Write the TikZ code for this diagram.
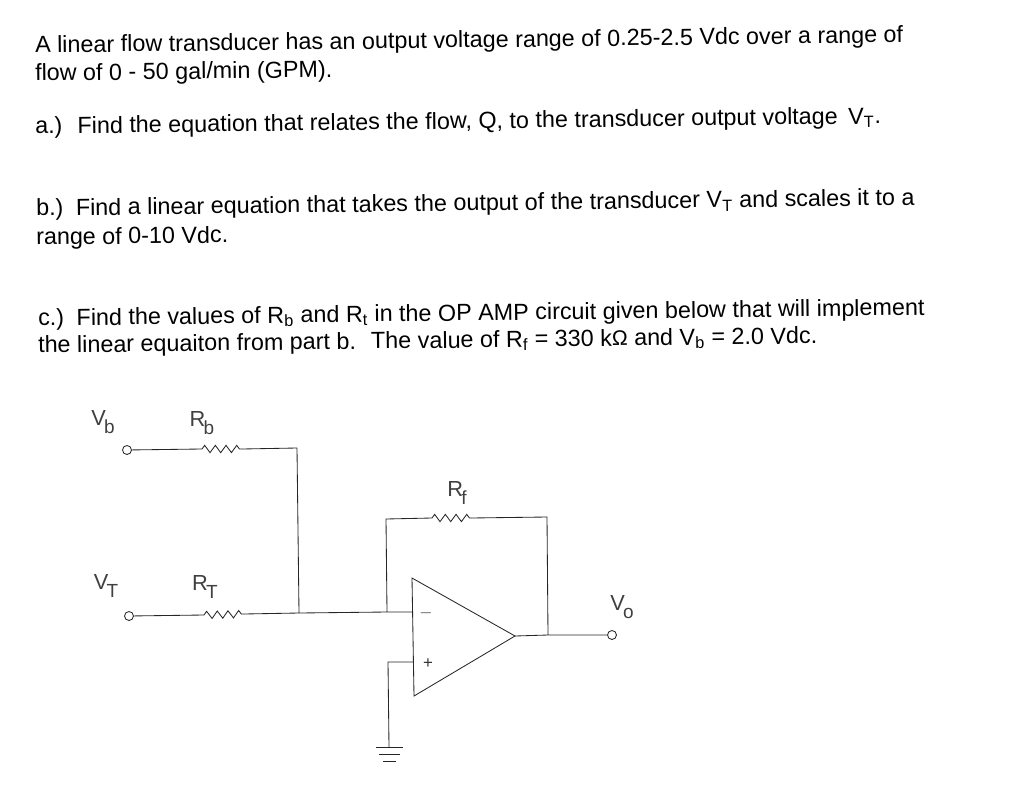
\documentclass[tikz,border=0pt]{standalone}
\usepackage{fontspec}
\setmainfont{Liberation Sans}
\usetikzlibrary{decorations.pathmorphing}
\tikzset{
	wire/.style={draw=black!85, line width=0.6pt},
	resistor/.style={wire, decorate, decoration={zigzag, segment length=7.6pt, amplitude=2.6pt}},
	pin/.style={circle, draw=black!85, line width=0.6pt, fill=white, inner sep=0pt, minimum size=6.4pt},
	question/.style={anchor=base west, rotate=0.7, inner sep=0pt, font=\fontsize{16.6pt}{20pt}\selectfont, text=black},
	partlabel/.style={inner sep=0pt, text=black!75, font=\fontsize{15.5pt}{18pt}\selectfont},
	signlabel/.style={inner sep=0pt, text=black!80, font=\fontsize{12pt}{14pt}\selectfont}
}
\newcommand{\sublabel}[2]{#1\kern-1.2pt\raisebox{-5.5pt}{\fontsize{13.5pt}{15pt}\selectfont #2}}
\begin{document}
\begin{tikzpicture}[x=0.025cm, y=-0.025cm]
			\useasboundingbox (0,0) rectangle (1024,794);

			% question text
			\node[question] (line1) at (35,53)	{A linear flow transducer has an output voltage range of 0.25-2.5 Vdc over a range of};
			\node[question] (line2) at (35,81)	{flow of 0 - 50 gal/min (GPM).};
			\node[question] (line3) at (35,134)	{a.)\; Find the equation that relates the flow, Q, to the transducer output voltage\, V\textsubscript{T}.};
			\node[question] (line4) at (36,216)	{b.)\, Find a linear equation that takes the output of the transducer V\textsubscript{T} and scales it to a};
			\node[question] (line5) at (36,245)	{range of 0-10 Vdc.};
			\node[question] (line6) at (38,326)	{c.)\, Find the values of R\textsubscript{b} and R\textsubscript{t} in the OP AMP circuit given below that will implement};
			\node[question] (line7) at (38,353)	{the linear equaiton from part b.\; The value of R\textsubscript{f} = 330 k{\fontsize{15pt}{18pt}\selectfont Ω} and V\textsubscript{b} = 2.0 Vdc.};

			% pins
			\node[pin] (vbpin) at (127,450)	{};
			\node[pin] (vtpin) at (129,616)	{};
			\node[pin] (vopin) at (612,635)	{};

			% junctions and corners
			\coordinate (rbleft) at (202,449);
			\coordinate (rbright) at (242,449);
			\coordinate (rbcorner) at (297,448);
			\coordinate (rtleft) at (204,615);
			\coordinate (rtright) at (244,614);
			\coordinate (sumpoint) at (299,613);
			\coordinate (fbfoot) at (387,612);
			\coordinate (minusin) at (413,612);
			\coordinate (fbcorner) at (386,519);
			\coordinate (rfleft) at (432,518);
			\coordinate (rfright) at (471,518);
			\coordinate (fbtop) at (547,517);
			\coordinate (fbdrop) at (548,635);
			\coordinate (plusin) at (413,662);
			\coordinate (pluscorner) at (388,662);
			\coordinate (gnd) at (389,747);

			% op amp
			\coordinate (amptop) at (412,578);
			\coordinate (ampbot) at (414,696);
			\coordinate (amptip) at (515,636);
			\draw[wire] (amptop) -- (amptip) -- (ampbot) -- cycle;
			\node[signlabel] (minussign) at (426,613)	{$-$};
			\node[signlabel] (plussign) at (428,664)	{+};

			% resistors
			\draw[resistor] (rbleft) -- (rbright);
			\draw[resistor] (rtleft) -- (rtright);
			\draw[resistor] (rfleft) -- (rfright);

			% wires
			\draw[wire] (vbpin) -- (rbleft)
						(rbright) -- (rbcorner) -- (sumpoint)
						(vtpin) -- (rtleft)
						(rtright) -- (sumpoint) -- (fbfoot) -- (minusin)
						(fbfoot) -- (fbcorner) -- (rfleft)
						(rfright) -- (fbtop) -- (fbdrop)
						(amptip) -- (fbdrop) -- (vopin)
						(plusin) -- (pluscorner) -- (gnd);

			% ground
			\draw[wire] (376,747) -- (403,747)
						(379,754) -- (400,754)
						(383,761) -- (396,761);

			% labels
			\node[partlabel] (vblabel) at (103,422)	{\sublabel{V}{b}};
			\node[partlabel] (rblabel) at (202,423)	{\sublabel{R}{b}};
			\node[partlabel] (vtlabel) at (106,586)	{\sublabel{V}{T}};
			\node[partlabel] (rtlabel) at (205,587)	{\sublabel{R}{T}};
			\node[partlabel] (rflabel) at (457,493)	{\sublabel{R}{f}};
			\node[partlabel] (volabel) at (622,607)	{\sublabel{V}{o}};
		\end{tikzpicture}
\end{document}
